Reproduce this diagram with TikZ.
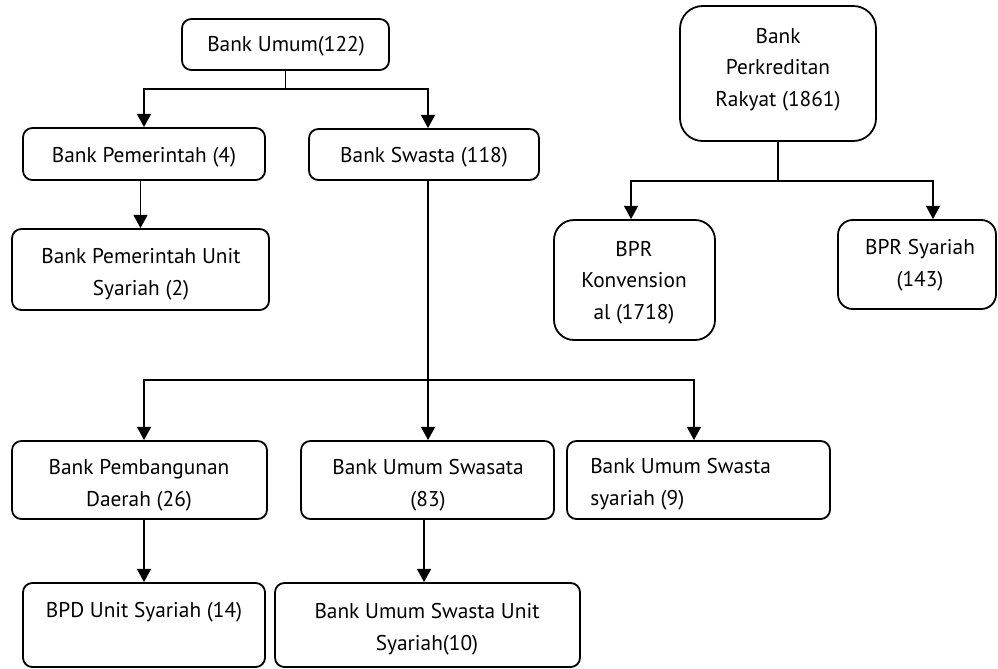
\documentclass[tikz,border=0pt]{standalone}
\usepackage{fontspec}
\setmainfont{PT Sans}
\usetikzlibrary{arrows.meta}
\begin{document}
\begin{tikzpicture}[x=0.75pt,y=-0.75pt,
  box/.style={draw, line width=1.35pt, rectangle, rounded corners=#1, inner sep=0pt},
  box/.default=7pt,
  txt/.style={font=\fontsize{16}{23.6}\selectfont, align=center, inner sep=0pt, anchor=base},
  arr/.style={line width=1.35pt, -{Triangle[width=10.5pt,length=10pt]}}]
\useasboundingbox (0,0) rectangle (998,668);
% boxes
\node[box, minimum width=155.25pt, minimum height=38.25pt] (um) at (285.5,44.5) {};
\node[box, minimum width=181.5pt, minimum height=39pt] (pem) at (144,154) {};
\node[box, minimum width=172.5pt, minimum height=38.25pt] (swa) at (424,154.5) {};
\node[box, minimum width=192.75pt, minimum height=60.75pt] (pemu) at (140.5,269.5) {};
\node[box=17pt, minimum width=147pt, minimum height=101.25pt] (bpr) at (778,73.5) {};
\node[box=15pt, minimum width=120.75pt, minimum height=90pt] (bprk) at (634.5,280) {};
\node[box=11pt, minimum width=118.5pt, minimum height=66.75pt] (bprs) at (917,264.5) {};
\node[box, minimum width=191.25pt, minimum height=58.5pt] (bpd) at (139.5,480) {};
\node[box, minimum width=189.75pt, minimum height=58.5pt] (bus) at (427.5,480) {};
\node[box, minimum width=197.25pt, minimum height=58.5pt] (buss) at (698.5,480) {};
\node[box, minimum width=181.5pt, minimum height=63pt] (bpdu) at (144,625) {};
\node[box, minimum width=228.75pt, minimum height=63pt] (busu) at (427.5,625) {};
% texts (base = last line's baseline)
\node[txt] (t-um) at (286,51) {Bank Umum(122)};
\node[txt] (t-pem) at (144,162) {Bank Pemerintah (4)};
\node[txt] (t-swa) at (424,162) {Bank Swasta (118)};
\node[txt] (t-pemu) at (141,295) {Bank Pemerintah Unit\\Syariah (2)};
\node[txt] (t-bpr) at (778,106) {Bank\\Perkreditan\\Rakyat (1861)};
\node[txt] (t-bprk) at (634,319) {BPR\\Konvension\\al (1718)};
\node[txt] (t-bprs) at (920,286) {BPR Syariah\\(143)};
\node[txt] (t-bpd) at (139,506) {Bank Pembangunan\\Daerah (26)};
\node[txt] (t-bus) at (428,506) {Bank Umum Swasata\\(83)};
\node[txt, align=left, anchor=base west] (t-buss) at (590,505) {Bank Umum Swasta\\syariah (9)};
\node[txt] (t-bpdu) at (144,617) {BPD Unit Syariah (14)};
\node[txt] (t-busu) at (427,650) {Bank Umum Swasta Unit\\Syariah(10)};
% connectors
\draw[arr] (um.south) -- ++(0,18) -| (pem.north);
\draw[arr] (um.south) -- ++(0,18) -| ([xshift=3pt]swa.north);
\draw[arr] (pemu.north |- pem.south) -- (pemu.north);
\draw[arr] ([xshift=3pt]swa.south) -- ([xshift=0.4pt]bus.north);
\coordinate (hb) at (428,380);
\draw[arr] (hb) -| ([xshift=3.4pt]bpd.north);
\draw[arr] (hb) -| ([xshift=-3.4pt]buss.north);
\draw[arr] (bpdu.north |- bpd.south) -- (bpdu.north);
\draw[arr] ([xshift=-2.6pt]bus.south) -- ([xshift=-2.6pt]busu.north);
\draw[arr] (bpr.south) -- ++(0,39) -| ([xshift=-2.6pt]bprk.north);
\draw[arr] (bpr.south) -- ++(0,39) -| ([xshift=12pt]bprs.north);
\end{tikzpicture}
\end{document}
